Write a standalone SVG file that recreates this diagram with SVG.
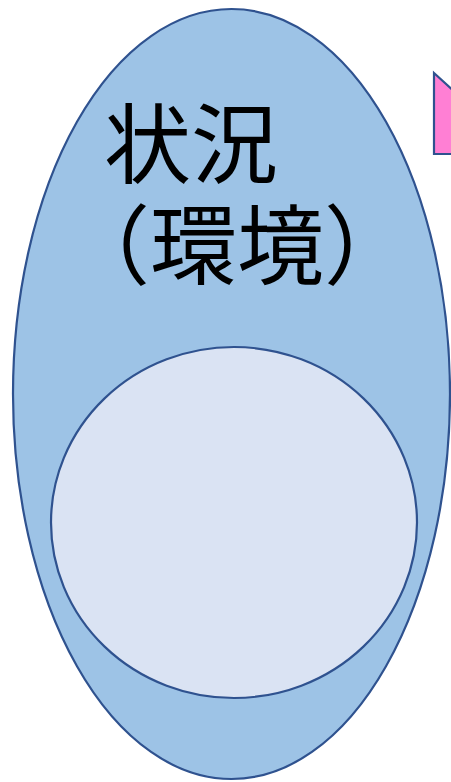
<svg xmlns="http://www.w3.org/2000/svg" width="451" height="782" viewBox="0 0 451 782">
<style>
.shape{stroke:#2F528F;stroke-width:2.2}
.lbl{font-family:"Noto Sans CJK JP","Noto Sans CJK SC",sans-serif;font-size:87px;fill:#000}
</style>
<rect width="451" height="782" fill="#fff"/>
<g id="arrow">
<path class="shape" d="M434,73 L500,133 L500,154 L434,154 Z" fill="#FF7FD4"/>
</g>
<g id="situation">
<ellipse class="shape" cx="231.5" cy="394" rx="218.5" ry="385" fill="#9DC3E6"/>
<text class="lbl"><tspan x="104" y="177">状況</tspan><tspan x="63" y="278">（環境）</tspan></text>
</g>
<g id="inner">
<ellipse class="shape" cx="234" cy="522.5" rx="183" ry="175.5" fill="#DAE3F3"/>
</g>
<g id="connectors"></g>
</svg>
